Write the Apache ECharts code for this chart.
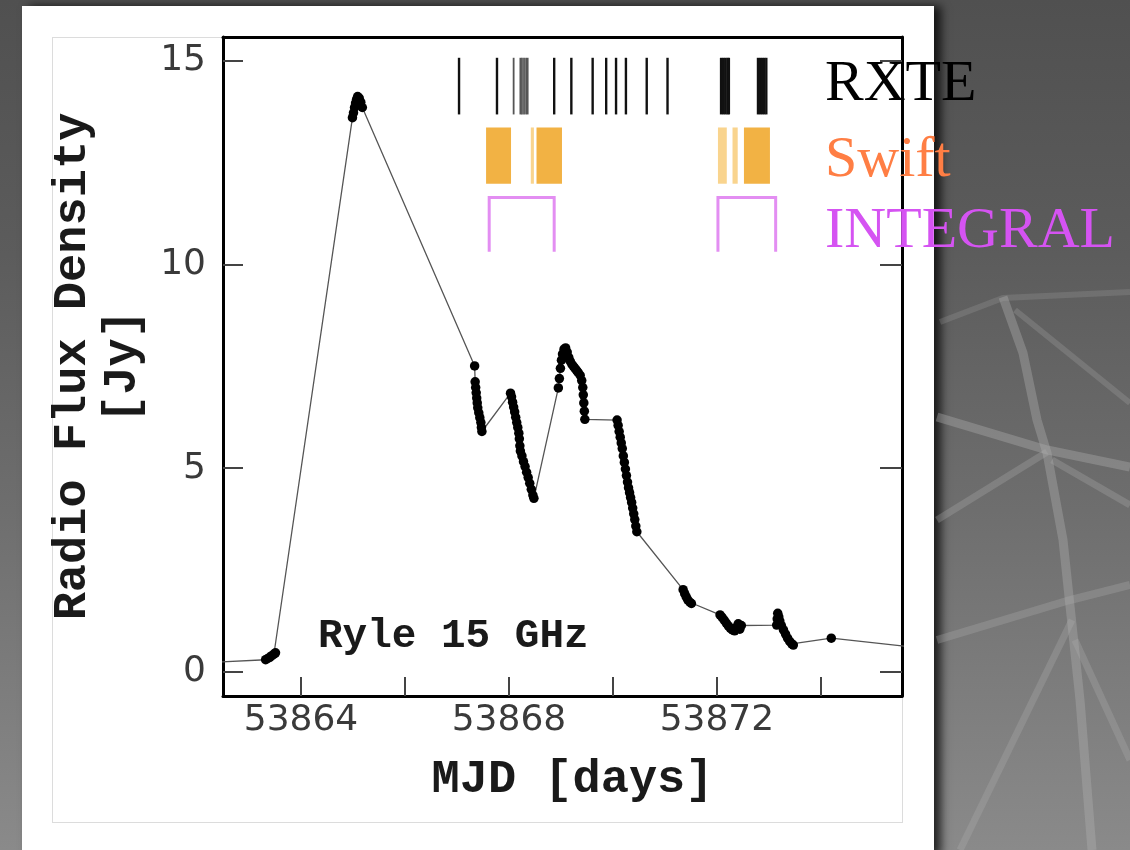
<!DOCTYPE html>
<html><head><meta charset="utf-8">
<script src="https://cdn.jsdelivr.net/npm/echarts@6/dist/echarts.min.js"></script>
<style>
html,body{margin:0;padding:0;width:1130px;height:850px;overflow:hidden;
 background:linear-gradient(180deg,#505050 0%,#5c5c5c 30%,#6e6e6e 60%,#8a8a8a 100%);}
#panel{position:absolute;left:22px;top:6px;width:912px;height:850px;background:#fff;box-shadow:7px 0 9px rgba(0,0,0,0.75);}
#frame{position:absolute;left:52px;top:37px;width:851px;height:786px;border:1px solid #dcdcdc;box-sizing:border-box;}
#chart{position:absolute;left:0;top:0;width:1130px;height:850px;}
</style></head><body>
<div id="panel"></div><div id="frame"></div><div id="chart"></div>
<script>
// ---- Ryle 15 GHz light curve (MJD, flux density in Jy) ----
const mjd = [
 53862.00,
 53863.32,53863.36,53863.40,53863.44,53863.48,53863.51,
 53864.99,53865.01,53865.03,53865.05,53865.07,53865.09,53865.12,53865.15,53865.18,
 53867.34,53867.35,53867.36,53867.37,53867.38,53867.39,53867.40,53867.42,53867.44,53867.46,53867.47,53867.48,
 53868.03,53868.05,53868.07,53868.09,53868.11,53868.13,53868.15,53868.17,53868.19,53868.20,53868.21,53868.22,53868.25,53868.28,53868.31,53868.34,53868.37,53868.40,53868.43,53868.46,53868.48,
 53868.95,53868.97,53868.99,53869.01,53869.03,53869.06,53869.09,53869.12,53869.15,53869.18,53869.21,53869.24,53869.27,53869.30,53869.33,53869.37,53869.40,53869.42,53869.43,53869.44,53869.45,53869.46,
 53870.08,53870.10,53870.12,53870.14,53870.16,53870.18,53870.20,53870.22,53870.24,53870.26,53870.28,53870.30,53870.32,53870.34,53870.36,53870.38,53870.40,53870.42,53870.44,53870.46,
 53871.35,53871.38,53871.41,53871.44,53871.48,53871.51,
 53872.06,53872.10,53872.14,53872.18,53872.22,53872.26,53872.30,53872.34,53872.38,53872.41,53872.44,53872.47,
 53873.15,53873.16,53873.17,53873.19,53873.21,53873.24,53873.28,53873.32,53873.36,53873.40,53873.44,53873.47,
 53874.20,
 53876.00
];
const flux = [
 0.22,
 0.30,0.33,0.36,0.40,0.44,0.47,
 13.60,13.72,13.85,13.96,14.05,14.12,14.08,13.98,13.85,
 7.51,7.12,6.98,6.85,6.72,6.60,6.48,6.36,6.24,6.12,6.00,5.90,
 6.84,6.75,6.62,6.50,6.38,6.25,6.12,6.00,5.86,5.72,5.55,5.42,5.30,5.16,5.04,4.90,4.77,4.63,4.48,4.34,4.26,
 6.97,7.20,7.45,7.65,7.80,7.92,7.95,7.85,7.72,7.62,7.55,7.50,7.45,7.40,7.35,7.28,7.15,6.98,6.80,6.60,6.40,6.20,
 6.18,6.05,5.90,5.76,5.62,5.48,5.30,5.14,4.98,4.82,4.66,4.52,4.40,4.28,4.16,4.02,3.88,3.74,3.58,3.44,
 2.02,1.92,1.84,1.77,1.71,1.68,
 1.40,1.34,1.27,1.20,1.13,1.07,1.03,1.01,1.10,1.18,1.05,1.14,
 1.15,1.30,1.44,1.35,1.25,1.14,1.03,0.93,0.83,0.75,0.69,0.66,
 0.83,
 0.58
];
// ---- X-ray / gamma-ray coverage ----
const rxteTimes = [53867.04,53867.77,53868.87,53869.20,53869.61,53869.87,
 53870.06,53870.25,53870.65,53871.05,
 53872.08,53872.12,53872.16,53872.20,53872.23,
 53872.79,53872.83,53872.87,53872.91,53872.95];
const rxteShort = [53868.09,53868.22,53868.25,53868.29,53868.33,53868.36];
const swiftDense = [[53867.56,53868.04],[53868.53,53869.02],[53872.52,53873.02]];
const swiftFaint = [[53868.42,53868.48],[53872.02,53872.19],[53872.30,53872.40]];
const integralWindows = [[53867.62,53868.87],[53872.02,53873.13]];
// ---- axes ----
const xTicks = [53864,53866,53868,53870,53872,53874];
const xLabels = [53864,53868,53872];
const yTicks = [0,5,10,15];
const observatories = ['RXTE','Swift','INTEGRAL'];

// row extents (in flux units) for the coverage bars
const RXTE_ROW = [13.68,15.07];
const SWIFT_ROW = [11.98,13.36];
const INTEGRAL_ROW = [10.31,11.64];
const XMIN = 53862.5, XMAX = 53875.56, YMIN = -0.59, YMAX = 15.58;

const chart = echarts.init(document.getElementById('chart'), null, {renderer:'canvas'});
const tickLbl = {fontFamily:'DejaVu Sans', fontSize:36, color:'#3a3a3a'};
const nameStyle = {fontFamily:'Liberation Mono', fontWeight:'bold', fontSize:47, color:'#1a1a1a'};

function rxteItem(color, width) {
  return (params, api) => {
    const t = api.value(0);
    const a = api.coord([t, RXTE_ROW[0]]), b = api.coord([t, RXTE_ROW[1]]);
    return {type:'line', shape:{x1:a[0],y1:a[1],x2:b[0],y2:b[1]}, style:{stroke:color, lineWidth:width}};
  };
}
function swiftItem(color) {
  return (params, api) => {
    const a = api.coord([api.value(0), SWIFT_ROW[1]]), b = api.coord([api.value(1), SWIFT_ROW[0]]);
    return {type:'rect', shape:{x:a[0], y:a[1], width:Math.max(b[0]-a[0],2), height:b[1]-a[1]}, style:{fill:color}};
  };
}
const dome = (pts, a, w) => ({type:'polyline', z:-5, silent:true, shape:{points:pts}, style:{stroke:'rgba(175,175,175,'+a+')', lineWidth:w, fill:null}});

const option = {
 backgroundColor:'transparent',
 animation:false,
 grid:{left:223,right:228,top:37,bottom:154},
 xAxis:[{
   type:'value',min:XMIN,max:XMAX,position:'bottom',
   axisLine:{show:true,onZero:false,lineStyle:{color:'#000',width:3}},
   axisTick:{show:true,inside:true,length:19,customValues:xTicks,lineStyle:{color:'#444',width:2}},
   axisLabel:Object.assign({customValues:xLabels,margin:7,formatter:v=>String(v)},tickLbl),
   splitLine:{show:false},
   name:'MJD [days]',nameLocation:'middle',nameGap:61,
   nameTextStyle:Object.assign({padding:[0,0,0,20]},nameStyle)
 },{
   type:'value',min:XMIN,max:XMAX,position:'top',
   axisLine:{show:true,onZero:false,lineStyle:{color:'#000',width:3}},
   axisTick:{show:false},axisLabel:{show:false},splitLine:{show:false}
 }],
 yAxis:[{
   type:'value',min:YMIN,max:YMAX,position:'left',
   axisLine:{show:true,onZero:false,lineStyle:{color:'#000',width:3}},
   axisTick:{show:true,inside:true,length:20,customValues:yTicks,lineStyle:{color:'#444',width:2}},
   axisLabel:Object.assign({customValues:yTicks,margin:17},tickLbl),
   splitLine:{show:false},
   name:'Radio Flux Density\n[Jy]',nameLocation:'middle',nameRotate:90,nameGap:75,
   nameTextStyle:Object.assign({lineHeight:50,align:'center'},nameStyle)
 },{
   type:'value',min:YMIN,max:YMAX,position:'right',
   axisLine:{show:true,onZero:false,lineStyle:{color:'#000',width:3}},
   axisTick:{show:true,inside:true,length:22,customValues:yTicks,lineStyle:{color:'#444',width:2}},
   axisLabel:{show:false},splitLine:{show:false}
 }],
 series:[
  {
   name:'Ryle 15 GHz',type:'line',xAxisIndex:0,yAxisIndex:0,
   data:mjd.map((t,i)=>[t,flux[i]]),
   symbol:'circle',symbolSize:9.5,showAllSymbol:true,clip:true,
   itemStyle:{color:'#000'},lineStyle:{color:'#555',width:1.3},z:5
  },
  {name:'RXTE',type:'custom',xAxisIndex:0,yAxisIndex:0,
   data:rxteTimes.map(t=>[t,RXTE_ROW[1]]),encode:{x:0,y:1},renderItem:rxteItem('#111',2.4)},
  {name:'RXTE short',type:'custom',xAxisIndex:0,yAxisIndex:0,
   data:rxteShort.map(t=>[t,RXTE_ROW[1]]),encode:{x:0,y:1},renderItem:rxteItem('#555',1.8)},
  {name:'Swift',type:'custom',xAxisIndex:0,yAxisIndex:0,
   data:swiftFaint.map(w=>[w[0],w[1],SWIFT_ROW[1]]),encode:{x:[0,1],y:2},renderItem:swiftItem('#f9d48e')},
  {name:'Swift dense',type:'custom',xAxisIndex:0,yAxisIndex:0,
   data:swiftDense.map(w=>[w[0],w[1],SWIFT_ROW[1]]),encode:{x:[0,1],y:2},renderItem:swiftItem('#f2b244')},
  {
   name:'INTEGRAL',type:'custom',xAxisIndex:0,yAxisIndex:0,
   data:integralWindows.map(w=>[w[0],w[1],INTEGRAL_ROW[1]]),encode:{x:[0,1],y:2},
   renderItem:(params,api)=>{
     const p1=api.coord([api.value(0),INTEGRAL_ROW[0]]), p2=api.coord([api.value(0),INTEGRAL_ROW[1]]);
     const p3=api.coord([api.value(1),INTEGRAL_ROW[1]]), p4=api.coord([api.value(1),INTEGRAL_ROW[0]]);
     return {type:'polyline',shape:{points:[p1,p2,p3,p4]},style:{stroke:'#e38ef2',lineWidth:3,fill:null}};
   }
  }
 ],
 graphic:[
  // dome structure in background (right side)
  dome([[940,322],[1003,298],[1130,292]],0.22,6),
  dome([[1003,297],[1023,353],[1037,420],[1047,453],[1063,540],[1080,700],[1092,850]],0.38,9),
  dome([[937,417],[1047,450],[1130,467]],0.38,9),
  dome([[1015,310],[1130,403]],0.25,6),
  dome([[937,520],[1047,452]],0.3,7),
  dome([[1052,460],[1130,505]],0.3,7),
  dome([[937,640],[1070,600],[1130,585]],0.3,8),
  dome([[960,850],[1072,620]],0.3,7),
  dome([[1075,640],[1130,760]],0.3,7),
  // in-plot label
  {type:'text',z:50,silent:true,left:318,top:616,style:{text:'Ryle 15 GHz',font:'bold 41px "Liberation Mono"',fill:'#1a1a1a'}},
  // observatory labels
  {type:'text',z:60,silent:true,left:825,top:56,style:{text:observatories[0],font:'58px "Liberation Serif"',fill:'#000'}},
  {type:'text',z:60,silent:true,left:825,top:132,style:{text:observatories[1],font:'58px "Liberation Serif"',fill:'#ff7e44'}},
  {type:'text',z:60,silent:true,left:825,top:203,style:{text:observatories[2],font:'58px "Liberation Serif"',fill:'#d553f2'}}
 ]
};
chart.setOption(option);
</script>
</body></html>
